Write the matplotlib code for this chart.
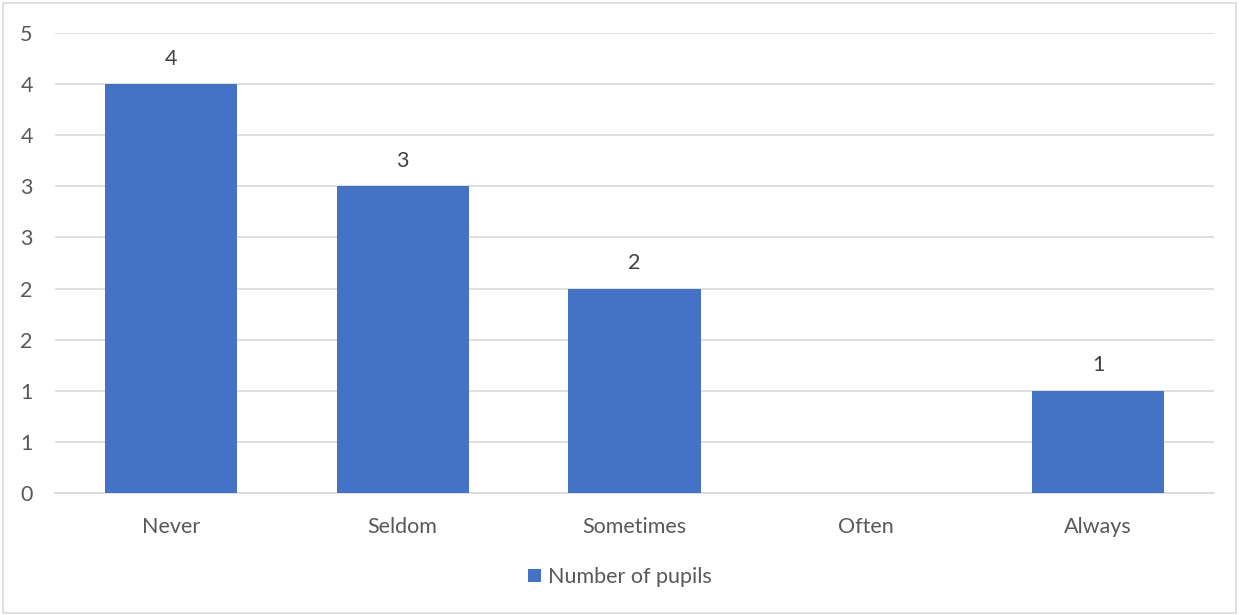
import matplotlib.pyplot as plt
from matplotlib.patches import Rectangle
from matplotlib.ticker import FuncFormatter, MultipleLocator

# Datos del gráfico
categorias = ['Never', 'Seldom', 'Sometimes', 'Often', 'Always']
alumnos = [4, 3, 2, 0, 1]
serie = 'Number of pupils'

azul = '#4472C4'
gris_texto = '#595959'
gris_rejilla = '#D9D9D9'
tam = 15.5

plt.rcParams['font.family'] = ['Lato', 'DejaVu Sans']

fig = plt.figure(figsize=(12.4, 6.15), dpi=100)
ax = fig.add_axes([55 / 1240, 1 - 493 / 615, (1214 - 55) / 1240, (493 - 33) / 615])

barras = ax.bar(range(len(categorias)), alumnos, width=0.57, color=azul, label=serie, zorder=3)

# Etiquetas de valor encima de cada barra (no para valores cero)
for x, v in enumerate(alumnos):
    if v > 0:
        ax.text(x, v + 0.15, str(v), ha='center', va='bottom', fontsize=tam, color='#404040')

ax.set_xlim(-0.5, len(categorias) - 0.5)
ax.set_ylim(0, 4.5)
ax.yaxis.set_major_locator(MultipleLocator(0.5))
# Excel redondea las etiquetas del eje a enteros
ax.yaxis.set_major_formatter(FuncFormatter(lambda y, pos: str(int(y + 0.5))))
ax.set_xticks(range(len(categorias)))
ax.set_xticklabels(categorias)

ax.grid(axis='y', color=gris_rejilla, linewidth=1.2, zorder=0)
for lado in ['top', 'right', 'left']:
    ax.spines[lado].set_visible(False)
ax.spines['bottom'].set_color(gris_rejilla)
ax.spines['bottom'].set_linewidth(1.2)
ax.tick_params(axis='both', length=0, labelsize=tam, labelcolor=gris_texto)
ax.tick_params(axis='y', pad=16)
ax.tick_params(axis='x', pad=17)

fig.legend(loc='center', bbox_to_anchor=(0.5, 1 - 577 / 615), frameon=False, fontsize=tam,
           labelcolor=gris_texto, handlelength=0.6, handleheight=0.6, handletextpad=0.3)

# Marco del gráfico
fig.patches.append(Rectangle((3 / 1240, 2 / 615), 1233 / 1240, 610 / 615, transform=fig.transFigure,
                             fill=False, edgecolor='#D9D9D9', linewidth=1.2))

fig.savefig('out.png', dpi=100)
